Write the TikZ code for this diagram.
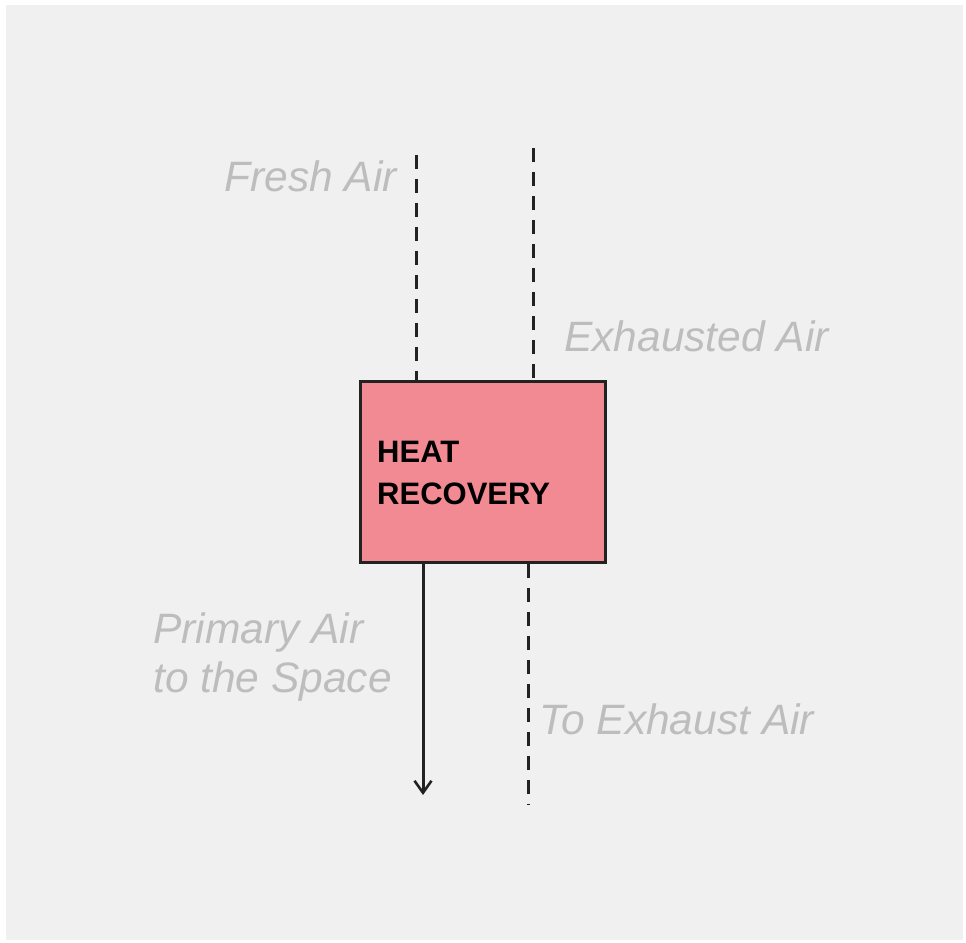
\documentclass[tikz,border=0pt]{standalone}
\usepackage{fontspec}
\setmainfont{Liberation Sans}
\usetikzlibrary{arrows.meta}
\definecolor{panelgray}{HTML}{F0F0F0}
\definecolor{boxpink}{HTML}{F28A93}
\definecolor{linegray}{HTML}{222222}
\definecolor{labelgray}{HTML}{BDBDBD}
\begin{document}
\begin{tikzpicture}[
	x=1pt, y=-1pt,
	% Define the styles for the box, the ducts and the labels
	unitbox/.style={draw=linegray, line width=3pt, fill=boxpink, minimum width=245pt, minimum height=181pt, inner sep=0pt},
	duct/.style={draw=linegray, line width=3pt, dash pattern=on 14pt off 10pt},
	supply/.style={draw=linegray, line width=3pt, -{Straight Barb[length=12pt, width=17pt, line width=2.6pt]}},
	airlabel/.style={text=labelgray, font=\fontsize{42.5}{49}\selectfont\itshape, inner sep=0pt, align=left}
	]
	
	% --- CANVAS ---
	\fill[white] (0,0) rectangle (966,942);
	\fill[panelgray] (6,5) rectangle (963,940);
	\useasboundingbox (0,0) rectangle (966,942);
	
	% --- UNIT ---
	\node[unitbox] (hr) at (482.5,471.5) {};
	\node[anchor=west, inner sep=0pt, align=left, font=\fontsize{31}{42}\selectfont\bfseries] (hrtext) at (377,473) {HEAT\\RECOVERY};
	
	% --- FREE ENDS OF THE DUCTS ---
	\coordinate (fresh) at (416,155);
	\coordinate (exhausted) at (533,148);
	\coordinate (primary) at (423,795);
	\coordinate (toexhaust) at (528,805);
	
	% --- DUCTS ---
	\draw[duct] (fresh) -- (fresh |- hr.north);         % Fresh air in
	\draw[duct] (exhausted) -- (exhausted |- hr.north); % Exhausted air in
	\draw[supply] (primary |- hr.south) -- (primary);   % Primary air out
	\draw[duct] (toexhaust |- hr.south) -- (toexhaust); % Exhaust out
	
	% --- LABELS ---
	\node[airlabel, anchor=east] (freshlbl) at (397,176) {Fresh Air};
	\node[airlabel, anchor=west] (exhlbl) at (564,336) {Exhausted Air};
	\node[airlabel, anchor=west] (primlbl) at (153,657) {Primary Air\\to the Space};
	\node[airlabel, anchor=west] (toexlbl) at (539,719) {To Exhaust Air};
	
\end{tikzpicture}
\end{document}
